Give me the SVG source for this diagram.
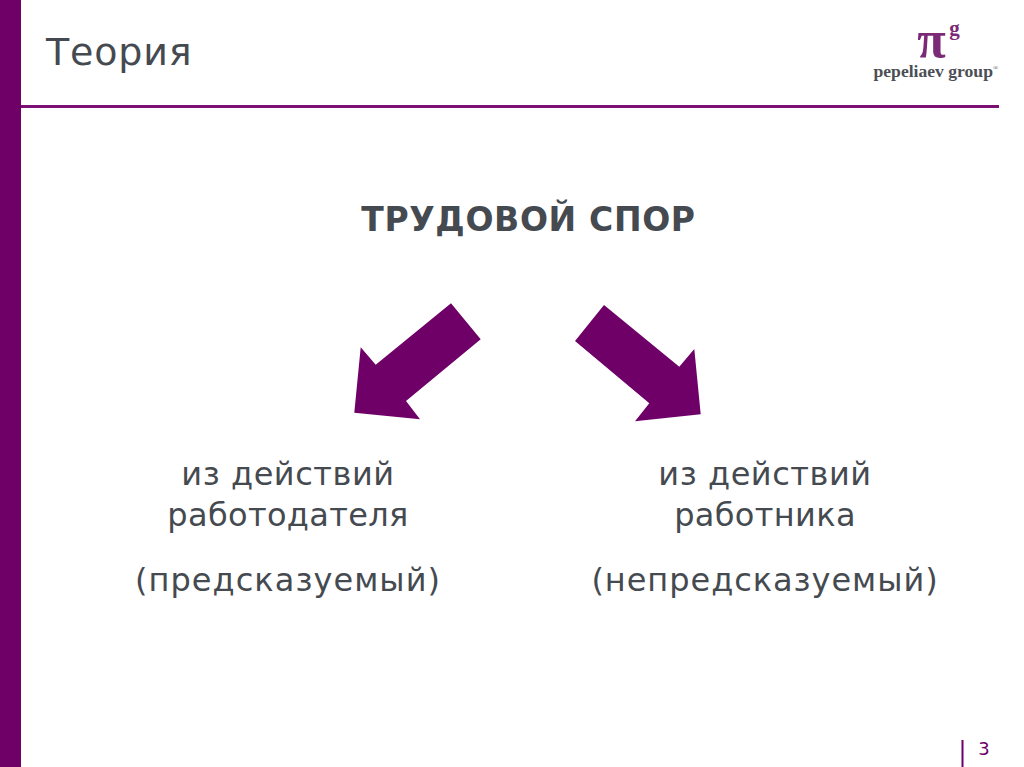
<svg xmlns="http://www.w3.org/2000/svg" width="1024" height="767" viewBox="0 0 1024 767">
<style>
.t{font-family:"DejaVu Sans",Verdana,sans-serif;fill:#454a50;text-anchor:middle;font-size:32px}
.a{fill:#6f0068}
.s{font-family:"Liberation Serif","Times New Roman",serif}
</style>
<rect width="1024" height="767" fill="#fff"/>
<rect x="0" y="0" width="21" height="767" fill="#6f0068"/>
<rect x="21" y="105" width="978" height="3" fill="#7c0f74"/>
<text x="46" y="65" class="t" style="text-anchor:start;font-size:38px;letter-spacing:.8px">Теория</text>
<g id="logo">
<text x="931.5" y="57" class="s" text-anchor="middle" font-size="52" font-weight="bold" fill="#7c2a78">π</text>
<text x="954.5" y="35" class="s" text-anchor="middle" font-size="21" font-weight="bold" fill="#7c2a78">g</text>
<text x="873.5" y="77" class="s" font-size="17.6" font-weight="bold" fill="#4b4f55">pepeliaev group</text>
<text x="993" y="70" class="s" font-size="7" fill="#4b4f55">®</text>
</g>
<g id="root"><text x="528.5" y="231" class="t" font-weight="bold" style="font-size:33px;letter-spacing:.65px">ТРУДОВОЙ СПОР</text></g>
<g id="connectors">
<polygon class="a" points="451,303.3 480.7,339.3 406,401 420,419.3 354.3,412.7 360.7,347.3 375.7,364.7"/>
<polygon class="a" points="604,305 575,341 649.3,403.3 635,421.3 700.7,414.3 694.3,349 679.3,366.7"/>
</g>
<g id="left">
<text x="288" y="485" class="t" style="letter-spacing:.55px">из действий</text>
<text x="288" y="526" class="t" style="letter-spacing:.35px">работодателя</text>
<text x="288" y="591" class="t" style="letter-spacing:1.05px">(предсказуемый)</text>
</g>
<g id="right">
<text x="765" y="485" class="t" style="letter-spacing:.55px">из действий</text>
<text x="765" y="526" class="t" style="letter-spacing:.35px">работника</text>
<text x="765" y="591" class="t" style="letter-spacing:.95px">(непредсказуемый)</text>
</g>
<g id="page">
<rect x="961.5" y="740" width="2" height="27" fill="#6f0068"/>
<text x="984" y="755" class="t" style="font-size:18px;fill:#6f0068">3</text>
</g>
</svg>
